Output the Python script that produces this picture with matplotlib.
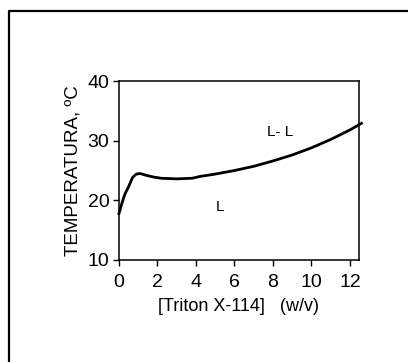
import matplotlib
matplotlib.use("Agg")
import matplotlib.pyplot as plt
from matplotlib.lines import Line2D

plt.rcParams['font.family'] = ['Liberation Sans', 'DejaVu Sans']

# phase boundary (cloud point) curve
conc = [0, 0.15, 0.3, 0.5, 0.7, 0.9, 1.1, 1.4, 1.8, 2.2, 3.0, 3.8, 4.2,
        5.0, 6.0, 7.0, 8.0, 9.0, 10.0, 11.0, 12.0, 12.6]
temp = [17.8, 19.5, 21.0, 22.3, 23.8, 24.4, 24.5, 24.2, 23.9, 23.7, 23.6, 23.7, 24.0,
        24.4, 25.0, 25.7, 26.6, 27.6, 28.8, 30.2, 31.8, 32.9]

xticks = [0, 2, 4, 6, 8, 10, 12]
yticks = [10, 20, 30, 40]

fig = plt.figure(figsize=(4.08, 3.62), dpi=100)

# outer frame of the original figure (only top and left edges visible)
fx, fy = 8.5 / 408, (362 - 10.5) / 362
fig.lines.append(Line2D([fx, fx, 1.01], [-0.01, fy, fy], transform=fig.transFigure,
                        color='black', linewidth=1.6))

ax = fig.add_axes([119 / 408, (362 - 260) / 362, 240 / 408, 179 / 362])

ax.plot(conc, temp, color='black', linewidth=2.0, clip_on=False)

ax.set_xlim(0, 12.47)
ax.set_ylim(10, 40)
ax.set_xticks(xticks)
ax.set_yticks(yticks)
ax.tick_params(direction='out', length=4, width=1, labelsize=14,
               top=False, right=False)
ax.tick_params(axis='x', pad=6)
ax.tick_params(axis='y', pad=3)
for s in ax.spines.values():
    s.set_linewidth(1.1)

ax.text(8.36, 31.5, "L- L", fontsize=11, ha='center', va='center')
ax.text(5.25, 18.9, "L", fontsize=11, ha='center', va='center')

ax.set_xlabel("[Triton X-114]   (w/v)", fontsize=13, labelpad=5)
ax.set_ylabel("TEMPERATURA, ºC", fontsize=13.5, labelpad=4)

fig.savefig("out.png", dpi=100)
